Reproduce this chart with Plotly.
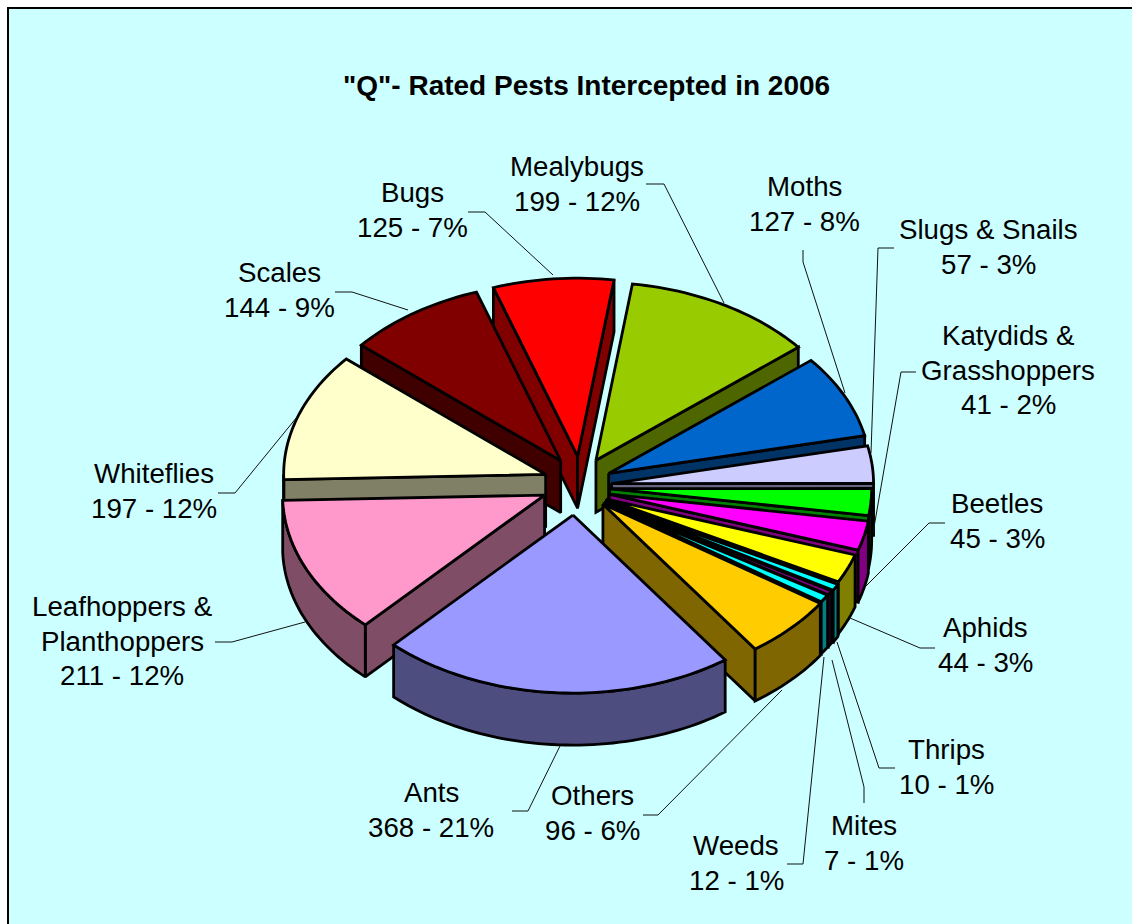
import math
import plotly.graph_objects as go

# ---- data -------------------------------------------------------------
categories = [["Mealybugs"], ["Moths"], ["Slugs & Snails"], ["Katydids &", "Grasshoppers"], ["Beetles"], ["Aphids"],
              ["Thrips"], ["Mites"], ["Weeds"], ["Others"], ["Ants"], ["Leafhoppers &", "Planthoppers"],
              ["Whiteflies"], ["Scales"], ["Bugs"]]
values = [199, 127, 57, 41, 45, 44, 10, 7, 12, 96, 368, 211, 197, 144, 125]
percents = [12, 8, 3, 2, 3, 3, 1, 1, 1, 6, 21, 12, 12, 9, 7]

# ---- styles -----------------------------------------------------------
top_colors = ["#99CC00", "#0066CC", "#CCCCFF", "#00FF00", "#FF00FF", "#FFFF00", "#00FFFF", "#800080",
              "#00FFFF", "#FFCC00", "#9999FF", "#FF99CC", "#FFFFCC", "#800000", "#FF0000"]
side_colors = ["#4D6600", "#003366", "#666680", "#008000", "#800080", "#808000", "#008080", "#400040",
               "#008080", "#806600", "#4D4D80", "#804D66", "#808066", "#400000", "#800000"]
pulls = [0.14, 0.13, 0.125, 0.125, 0.125, 0.13, 0.135, 0.135, 0.14, 0.17, 0.175, 0.165, 0.145, 0.145, 0.14]
nudges = [(0, 0), (0, 1.5), (1, 4), (-1, 5), (-0.5, 7), (-3, 8), (-3, 8), (-4, 8), (-5, 7), (-7, 1),
          (-2, 2), (6, 1), (3.5, 1), (4, 0), (3, -1)]

START_ANGLE = 8.0
CX, CY, RX, RY, DEPTH = 578, 482, 262, 178, 52
LW = 2.8
FONT = "Liberation Sans, Arial, sans-serif"
LABEL_SIZE = 27.7
LINE_GAP = 34.5

# label block centres
label_pos = [(577, 184), (804, 204), (988, 247), (1008, 370), (997, 521), (985, 645), (946, 767),
             (864, 843), (736, 863), (592, 813), (431, 810), (122, 641), (154, 491), (279, 290), (412, 210)]
leader_start = [[(646, 184), (664, 184)], [(803, 250), (803, 262)], [(894, 248), (878, 248)],
                [(916, 372), (901, 372)], [(945, 523), (929, 523)], [(935, 648), (920, 648)],
                [(895, 768), (879, 768)], [(864, 803), (864, 787)], [(787, 864), (803, 864)],
                [(643, 815), (658, 815)], [(512, 811), (528, 811)], [(215, 642), (232, 642)],
                [(218, 493), (235, 493)], [(335, 292), (352, 292)], [(468, 212), (485, 212)]]
leader_end = [(724, 303), (845, 393), (871, 453), (873, 533), (865, 587), (850, 618), (837, 642),
              (832, 660), (824, 657), (782, 690), (560, 746), (305, 622), (297, 417), (408, 310), (553, 275)]

# ---- geometry computed from the values --------------------------------
total = sum(values)


def rim(a, ang, dy=0.0):
    r = math.radians(ang)
    return (a[0] + RX * math.sin(r), a[1] - RY * math.cos(r) + dy)


slices = []
ang = START_ANGLE
for i, v in enumerate(values):
    sweep = v / total * 360
    mid = math.radians(ang + sweep / 2)
    apex = (CX + nudges[i][0] + pulls[i] * RX * math.sin(mid),
            CY + nudges[i][1] - pulls[i] * RY * math.cos(mid))
    slices.append(dict(i=i, a0=ang, a1=ang + sweep, apex=apex,
                       cy=apex[1] - 0.6 * RY * math.cos(mid)))
    ang += sweep


def arc(a, a0, a1, dy=0.0):
    n = max(2, int(abs(a1 - a0) / 1.5) + 2)
    return [rim(a, a0 + (a1 - a0) * k / (n - 1), dy) for k in range(n)]


def poly(fig, pts, color):
    fig.add_trace(go.Scatter(
        x=[p[0] for p in pts] + [pts[0][0]], y=[p[1] for p in pts] + [pts[0][1]],
        mode="lines", fill="toself", fillcolor=color,
        line=dict(color="black", width=LW, simplify=False),
        hoverinfo="skip", showlegend=False))


def face_visible(apex, p, other):
    ex, ey = p[0] - apex[0], p[1] - apex[1]
    ox, oy = other[0] - apex[0], other[1] - apex[1]
    return ex * (ex * oy - ey * ox) < 0


fig = go.Figure()
for s in sorted(slices, key=lambda d: d["cy"]):
    a, a0, a1, i = s["apex"], s["a0"], s["a1"], s["i"]
    p0, p1 = rim(a, a0), rim(a, a1)
    mid_pt = rim(a, (a0 + a1) / 2)
    for p in (p0, p1):
        if face_visible(a, p, mid_pt):
            poly(fig, [a, p, (p[0], p[1] + DEPTH), (a[0], a[1] + DEPTH)], side_colors[i])
    lo, hi = max(a0, 90), min(a1, 270)
    if hi > lo:
        poly(fig, arc(a, lo, hi) + arc(a, hi, lo, DEPTH), side_colors[i])
    poly(fig, [a] + arc(a, a0, a1), top_colors[i])

for start, end in zip(leader_start, leader_end):
    pts = start + [end]
    fig.add_trace(go.Scatter(x=[p[0] for p in pts], y=[p[1] for p in pts], mode="lines",
                             line=dict(color="#111111", width=1), hoverinfo="skip", showlegend=False))

annotations = [dict(x=586, y=85, text='<b>"Q"- Rated Pests Intercepted in 2006</b>', showarrow=False,
                    xref="x", yref="y", font=dict(family=FONT, size=28, color="black"))]
for c, v, p, (lx, ly) in zip(categories, values, percents, label_pos):
    lines = c + [f"{v} - {p}%"]
    for k, t in enumerate(lines):
        annotations.append(dict(x=lx, y=ly + (k - (len(lines) - 1) / 2) * LINE_GAP, xref="x", yref="y",
                                showarrow=False, align="center", text=t,
                                font=dict(family=FONT, size=LABEL_SIZE, color="black")))

fig.update_layout(
    width=1132, height=924, autosize=False,
    margin=dict(l=0, r=0, t=0, b=0),
    paper_bgcolor="white", plot_bgcolor="white",
    xaxis=dict(range=[0, 1132], visible=False, fixedrange=True),
    yaxis=dict(range=[924, 0], visible=False, fixedrange=True),
    shapes=[dict(type="rect", xref="x", yref="y", x0=8, y0=8, x1=1140, y1=932, layer="below",
                 fillcolor="#CCFFFF", line=dict(color="black", width=2))],
    annotations=annotations,
)
fig.write_html("out.html", config={"displayModeBar": False},
               post_script="document.body.style.margin='0';document.body.style.overflow='hidden';")
